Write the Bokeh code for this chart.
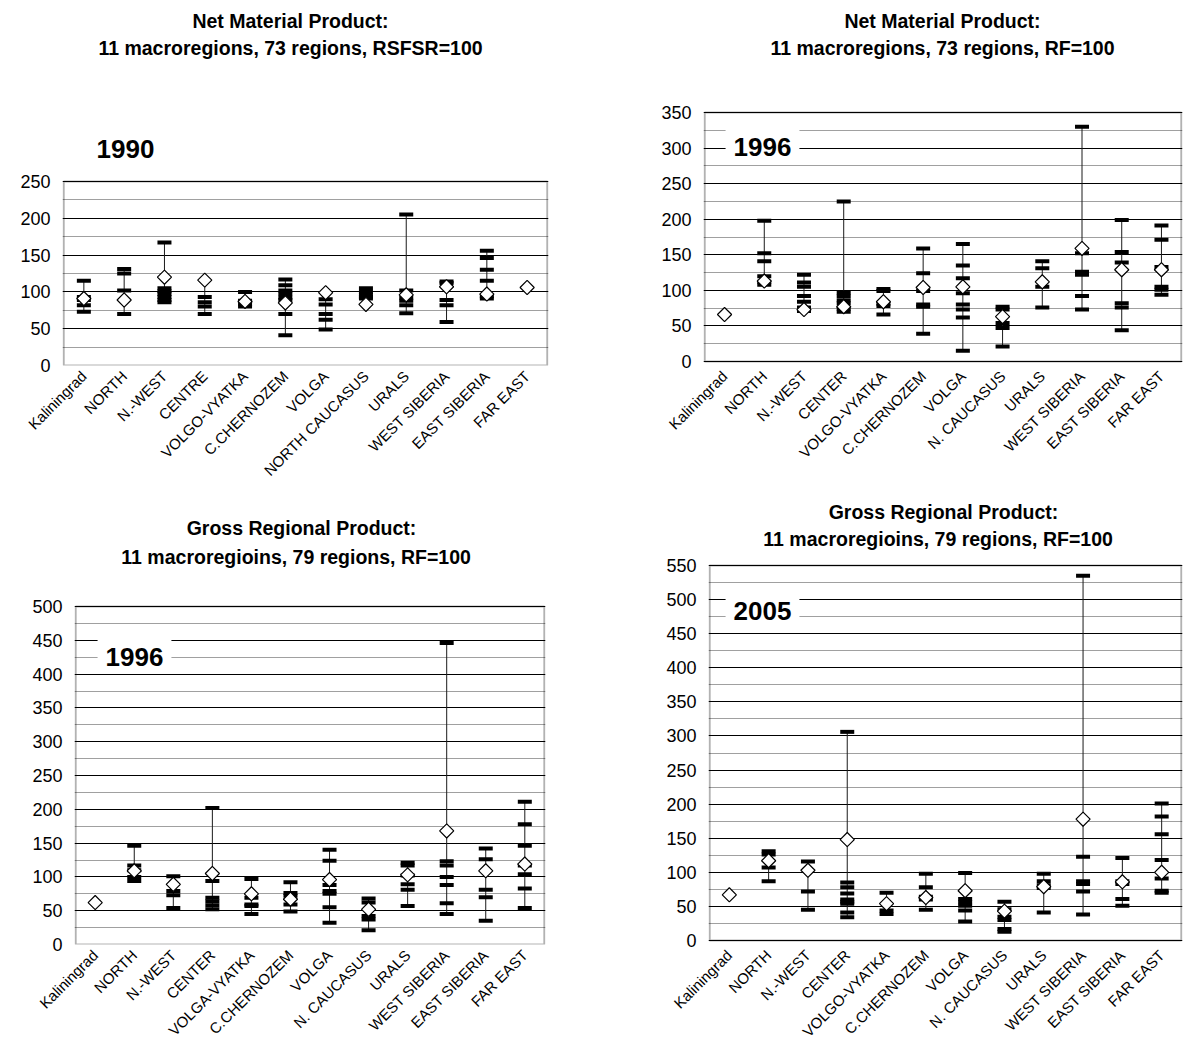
import numpy as np
from bokeh.plotting import figure
from bokeh.models import Range1d, FactorRange, FixedTicker, Label, BoxAnnotation
from bokeh.layouts import row, column
from bokeh.embed import file_html
from bokeh.resources import INLINE

# ---------------- data ----------------
cats_nmp90 = ["Kaliningrad", "NORTH", "N.-WEST", "CENTRE", "VOLGO-VYATKA", "C.CHERNOZEM",
              "VOLGA", "NORTH CAUCASUS", "URALS", "WEST SIBERIA", "EAST SIBERIA", "FAR EAST"]
cats_nmp96 = ["Kaliningrad", "NORTH", "N.-WEST", "CENTER", "VOLGO-VYATKA", "C.CHERNOZEM",
              "VOLGA", "N. CAUCASUS", "URALS", "WEST SIBERIA", "EAST SIBERIA", "FAR EAST"]
cats_grp96 = ["Kaliningrad", "NORTH", "N.-WEST", "CENTER", "VOLGA-VYATKA", "C.CHERNOZEM",
              "VOLGA", "N. CAUCASUS", "URALS", "WEST SIBERIA", "EAST SIBERIA", "FAR EAST"]
cats_grp05 = ["Kaliningrad", "NORTH", "N.-WEST", "CENTER", "VOLGO-VYATKA", "C.CHERNOZEM",
              "VOLGA", "N. CAUCASUS", "URALS", "WEST SIBERIA", "EAST SIBERIA", "FAR EAST"]

# regional values (dashes) per macroregion
nmp90_regions = [
    [115, 93, 89, 82, 73],
    [131, 125, 102, 70],
    [167, 105, 101, 97, 93, 89, 86],
    [93, 86, 80, 70],
    [100, 88, 84, 80],
    [117, 109, 102, 97, 92, 89, 70, 41],
    [90, 83, 70, 62, 49],
    [105, 100, 96, 93, 91],
    [205, 102, 92, 88, 82, 71],
    [114, 112, 89, 82, 59],
    [156, 146, 130, 115, 94, 91],
    [],
]
nmp90_macro = [91, 89, 120, 116, 87, 85, 99, 83, 96, 107, 97, 106]

nmp96_regions = [
    [],
    [198, 152, 141, 120, 112, 108],
    [122, 111, 105, 92, 84, 76, 71],
    [225, 97, 92, 86, 82, 74, 70],
    [102, 99, 81, 78, 66],
    [159, 124, 99, 80, 77, 39],
    [165, 135, 117, 96, 80, 73, 62, 15],
    [77, 73, 54, 47, 21],
    [141, 131, 105, 76],
    [330, 152, 126, 122, 92, 73],
    [199, 154, 139, 82, 76, 44],
    [191, 171, 133, 105, 101, 94],
]
nmp96_macro = [66, 113, 73, 77, 84, 104, 105, 63, 112, 159, 129, 129]

grp96_regions = [
    [],
    [146, 117, 110, 100, 94],
    [101, 79, 73, 54],
    [202, 94, 69, 64, 58, 52],
    [97, 69, 59, 57, 45],
    [92, 76, 72, 59, 49],
    [140, 124, 88, 79, 75, 55, 32],
    [68, 62, 42, 37, 21],
    [121, 117, 102, 89, 81, 57],
    [446, 123, 117, 100, 88, 61, 45],
    [142, 126, 81, 70, 35],
    [211, 178, 146, 117, 104, 83, 54],
]
grp96_macro = [62, 109, 89, 105, 75, 67, 96, 52, 103, 168, 109, 119]

grp05_regions = [
    [],
    [131, 126, 107, 87],
    [116, 72, 45],
    [306, 85, 78, 69, 60, 57, 54, 41, 34],
    [70, 44, 39],
    [98, 78, 64, 60, 45],
    [99, 61, 56, 51, 44, 28],
    [57, 46, 35, 30, 17, 13],
    [98, 87, 81, 77, 41],
    [535, 123, 87, 83, 72, 38],
    [121, 87, 83, 61, 51],
    [201, 182, 156, 118, 91, 73, 70],
]
grp05_macro = [67, 117, 103, 148, 54, 63, 73, 43, 79, 178, 86, 100]

titles = [
    ("Net Material Product:", "11 macroregions, 73 regions, RSFSR=100"),
    ("Net Material Product:", "11 macroregions, 73 regions, RF=100"),
    ("Gross Regional Product:", "11 macroregioins, 79 regions,   RF=100"),
    ("Gross Regional Product:", "11 macroregioins, 79 regions,   RF=100"),
]
years = ["1990", "1996", "1996", "2005"]
y_max = [250, 350, 500, 550]

FONT = "Liberation Sans"


def make_panel(cats, regions, macro, ymax, origin, size, frame, axis_px,
               title, t_pos, year, y_pos, boxed):
    ox, oy = origin
    W, H = size
    fl, ft, fr, fb = frame          # page pixels of the (extended) frame
    p0, pm = axis_px                 # page pixel of value 0 and of ymax
    k = (p0 - pm) / ymax
    ystart = -(fb - p0) / k
    yend = ymax + (pm - ft) / k
    xr = FactorRange(*cats, range_padding=0.03, range_padding_units="absolute")
    p = figure(x_range=xr, y_range=Range1d(ystart, yend),
               width=W, height=H, output_backend="svg", toolbar_location=None,
               min_border_left=fl - ox, min_border_right=ox + W - fr,
               min_border_top=ft - oy, min_border_bottom=oy + H - fb)
    p.background_fill_color = "white"
    p.border_fill_color = "white"
    p.outline_line_color = None

    majors = list(range(0, ymax + 1, 50))
    minors = list(range(25, ymax, 50))
    p.yaxis.ticker = FixedTicker(ticks=majors)
    p.ygrid.ticker = FixedTicker(ticks=majors, minor_ticks=minors)
    p.ygrid.grid_line_color = "black"
    p.ygrid.grid_line_width = 1
    p.ygrid.minor_grid_line_color = "#a0a0a0"
    p.ygrid.minor_grid_line_width = 1
    p.xgrid.grid_line_color = None

    for ax in (p.xaxis, p.yaxis):
        ax.major_tick_line_color = None
        ax.minor_tick_line_color = None
        ax.major_tick_out = 0
        ax.major_tick_in = 0
        ax.axis_line_color = None
        ax.major_label_text_font = FONT
        ax.major_label_text_color = "black"
    p.yaxis.major_label_text_font_size = "18px"
    p.yaxis.major_label_standoff = 12
    p.xaxis.major_label_text_font_size = "15px"
    p.xaxis.major_label_orientation = np.pi / 4
    p.xaxis.major_label_standoff = 8

    # plot-area box
    p.add_layout(BoxAnnotation(left=0, right=len(cats), bottom=0, top=ymax,
                               fill_color=None, fill_alpha=0,
                               line_color="black", line_width=2, level="underlay"))

    # whiskers (high-low lines)
    lo = [min(r + [m]) for r, m in zip(regions, macro)]
    hi = [max(r + [m]) for r, m in zip(regions, macro)]
    p.segment(x0=cats, y0=lo, x1=cats, y1=hi, line_color="#1a1a1a", line_width=1)

    # regional dashes
    dx, dy = [], []
    for c, r in zip(cats, regions):
        for v in r:
            dx.append(c)
            dy.append(v)
    p.scatter(x=dx, y=dy, marker="dash", size=14, line_color="black", line_width=4)

    # macroregion diamonds
    p.scatter(x=cats, y=macro, marker="square", angle=np.pi / 4, size=10,
              fill_color="white", line_color="black", line_width=1.2)

    # titles (page coordinates -> frame relative screen units)
    tx, ty1, ty2 = t_pos
    for txt, ty in ((title[0], ty1), (title[1], ty2)):
        p.add_layout(Label(x=tx - fl, y=fb - ty, x_units="screen", y_units="screen",
                           text=txt, text_font=FONT, text_font_size="19.5px",
                           text_font_style="bold", text_align="center",
                           text_baseline="middle", text_color="black"))
    yx, yy = y_pos
    lab = Label(x=yx - fl, y=fb - yy, x_units="screen", y_units="screen",
                text=year, text_font=FONT, text_font_size="26px", text_font_style="bold",
                text_align="center", text_baseline="middle", text_color="black")
    if boxed:
        lab.background_fill_color = "white"
        lab.padding = 8
    p.add_layout(lab)
    return p


TOP_H = 496
BOT_H = 1050 - TOP_H

p1 = make_panel(cats_nmp90, nmp90_regions, nmp90_macro, y_max[0], (0, 0), (600, TOP_H),
                (62, 4, 548, 365), (365, 181), titles[0], (290, 20, 47),
                years[0], (125, 148), False)
p2 = make_panel(cats_nmp96, nmp96_regions, nmp96_macro, y_max[1], (600, 0), (584, TOP_H),
                (703, 4, 1182, 365), (361, 112), titles[1], (942, 20, 47),
                years[1], (762, 146), True)
p3 = make_panel(cats_grp96, grp96_regions, grp96_macro, y_max[2], (0, TOP_H), (600, BOT_H),
                (74, 498, 545, 944), (944, 606), titles[2], (301, 527, 556),
                years[2], (134, 656), True)
p4 = make_panel(cats_grp05, grp05_regions, grp05_macro, y_max[3], (600, TOP_H), (584, BOT_H),
                (708, 498, 1182, 944), (940, 565), titles[3], (943, 511, 538),
                years[3], (762, 610), True)

layout = column(row(p1, p2, spacing=0), row(p3, p4, spacing=0), spacing=0)
open("out.html", "w").write(file_html(layout, INLINE))
